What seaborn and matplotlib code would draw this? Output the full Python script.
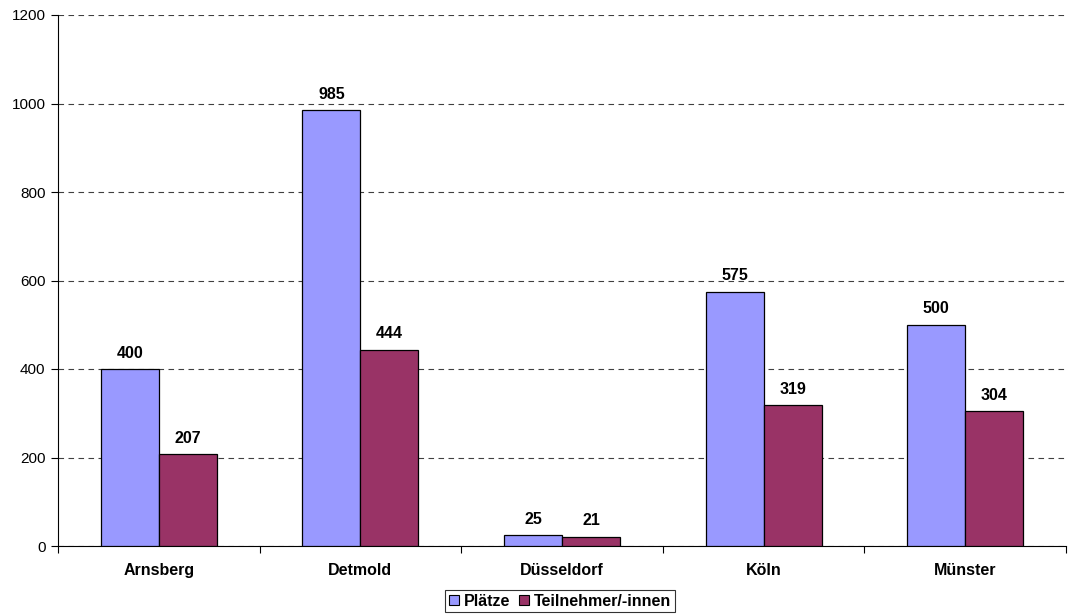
import matplotlib
matplotlib.use("Agg")
import matplotlib.pyplot as plt
import seaborn as sns
import pandas as pd
from matplotlib.patches import Patch
from matplotlib.ticker import FixedLocator

categories = ["Arnsberg", "Detmold", "Düsseldorf", "Köln", "Münster"]
plaetze = [400, 985, 25, 575, 500]
teilnehmer = [207, 444, 21, 319, 304]
series_names = ["Plätze", "Teilnehmer/-innen"]
colors = ["#9999FF", "#993366"]

df = pd.DataFrame({
    "Bezirk": categories * 2,
    "Wert": plaetze + teilnehmer,
    "Serie": [series_names[0]] * len(categories) + [series_names[1]] * len(categories),
})

sns.set_style("white")
plt.rcParams["font.family"] = ["Liberation Sans", "DejaVu Sans"]
plt.rcParams["text.color"] = "black"
plt.rcParams["xtick.color"] = "black"
plt.rcParams["ytick.color"] = "black"
plt.rcParams["axes.labelcolor"] = "black"

fig = plt.figure(figsize=(10.69, 6.16), dpi=100)
ax = fig.add_axes([58 / 1069, 1 - 546 / 616, (1066 - 58) / 1069, (546 - 15) / 616])

sns.barplot(data=df, x="Bezirk", y="Wert", hue="Serie", palette=colors,
            saturation=1, width=0.575, gap=0, edgecolor="black", linewidth=0.9,
            legend=False, ax=ax, zorder=3)

for cont in ax.containers:
    ax.bar_label(cont, fmt="%d", padding=6, fontsize=11.5, fontweight="bold", color="black")

ax.set_ylim(0, 1200)
ax.set_xlim(-0.5, len(categories) - 0.5)
ax.set_yticks(range(0, 1201, 200))
ax.yaxis.grid(True, linestyle=(0, (5, 4)), color="#404040", linewidth=0.8, zorder=0)
ax.set_axisbelow(True)
ax.set_xlabel("")
ax.set_ylabel("")

ax.tick_params(axis="x", which="major", length=0, labelsize=11.5, pad=12, labelcolor="black")
for lbl in ax.get_xticklabels():
    lbl.set_fontweight("bold")
ax.xaxis.set_minor_locator(FixedLocator([i + 0.5 for i in range(-1, len(categories))]))
ax.tick_params(axis="x", which="minor", length=5, width=0.8, color="black", direction="out", bottom=True)
ax.tick_params(axis="y", length=5, width=0.8, color="black", direction="out", labelsize=11,
               left=True, pad=4, labelcolor="black")

for s in ["top", "right"]:
    ax.spines[s].set_visible(False)
for s in ["left", "bottom"]:
    ax.spines[s].set_color("black")
    ax.spines[s].set_linewidth(0.8)

handles = [Patch(facecolor=c, edgecolor="black", linewidth=0.8) for c in colors]
leg = fig.legend(handles, series_names, loc="center", bbox_to_anchor=(560 / 1069, 1 - 601 / 616),
                 ncol=2, frameon=True, fancybox=False, edgecolor="black",
                 prop={"weight": "bold", "size": 11.5}, handlelength=0.6, handleheight=0.6,
                 handletextpad=0.3, columnspacing=0.6, borderpad=0.25, borderaxespad=0,
                 labelcolor="black")
leg.get_frame().set_linewidth(0.8)

fig.savefig("out.png", dpi=100)
